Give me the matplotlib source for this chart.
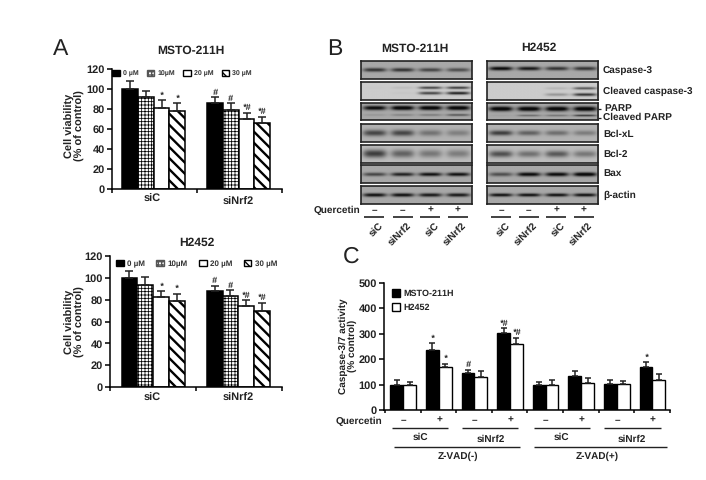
import numpy as np
import matplotlib
matplotlib.use("Agg")
import matplotlib.pyplot as plt
from matplotlib.patches import Patch

plt.rcParams["font.family"] = ["Liberation Sans", "DejaVu Sans"]
plt.rcParams["font.weight"] = "bold"
plt.rcParams["text.hinting"] = "no_hinting"
plt.rcParams["text.hinting_factor"] = 1

W, H = 706, 480
INK = "#222222"

# Panel A
doses = ["0 µM", "10µM", "20 µM", "30 µM"]
groups_a = ["siC", "siNrf2"]
msto_vals = [100, 92.5, 81.5, 78, 86, 79, 70.5, 66]
msto_errs = [8, 6, 7.5, 8, 6, 7, 6, 6.5]
msto_marks = ["", "", "*", "*", "#", "#", "*#", "*#"]
h2452_vals = [100, 93.5, 82.5, 79, 88, 83, 74, 69.5]
h2452_errs = [6, 7, 5.5, 6.5, 4.5, 5.5, 5.5, 7.5]
h2452_marks = ["", "", "*", "*", "#", "#", "*#", "*#"]

# Panel C
casp_msto = [100, 235, 145, 303, 100, 135, 102, 170]
casp_msto_err = [20, 27, 14, 20, 10, 18, 15, 18]
casp_msto_marks = ["", "*", "#", "*#", "", "", "", "*"]
casp_h2452 = [100, 168, 128, 260, 100, 107, 102, 118]
casp_h2452_err = [12, 15, 24, 25, 18, 20, 12, 23]
casp_h2452_marks = ["", "*", "", "*#", "", "", "", ""]
quercetin = ["–", "+", "–", "+", "–", "+", "–", "+"]

# Panel B: band strength per lane, (position in the strip, thickness, strengths)
blot_names = ["Caspase-3", "Cleaved caspase-3", "PARP", "Bcl-xL", "Bcl-2", "Bax", "β-actin"]
blots_msto = [
    [(0.52, 0.10, [0.65, 0.65, 0.55, 0.5])],
    [(0.32, 0.07, [0.02, 0.08, 0.75, 0.8]), (0.62, 0.08, [0.0, 0.03, 0.75, 0.95])],
    [(0.33, 0.12, [0.9, 1.0, 1.0, 1.0]), (0.72, 0.06, [0.1, 0.2, 0.25, 0.45])],
    [(0.5, 0.17, [0.6, 0.6, 0.35, 0.28])],
    [(0.48, 0.22, [0.7, 0.5, 0.38, 0.35])],
    [(0.52, 0.10, [0.55, 0.75, 0.85, 0.85])],
    [(0.5, 0.10, [0.85, 0.85, 0.8, 0.8])],
]
blots_h2452 = [
    [(0.45, 0.10, [0.9, 0.8, 0.65, 0.65])],
    [(0.35, 0.07, [0.0, 0.0, 0.12, 0.65]), (0.7, 0.08, [0.0, 0.0, 0.3, 0.85])],
    [(0.38, 0.13, [1.0, 1.0, 1.0, 1.0]), (0.75, 0.05, [0.05, 0.35, 0.3, 0.65])],
    [(0.5, 0.14, [0.65, 0.45, 0.38, 0.3])],
    [(0.5, 0.18, [0.6, 0.42, 0.55, 0.38])],
    [(0.52, 0.11, [0.5, 0.9, 0.9, 1.0])],
    [(0.5, 0.09, [0.85, 0.85, 0.85, 0.85])],
]
blot_bg = [0.66, 0.80, 0.66, 0.70, 0.74, 0.66, 0.66]
lanes_b = ["siC", "siNrf2", "siC", "siNrf2"]
quercetin_b = ["–", "–", "+", "+"]


def px_axes(fig, left, top, right, bottom):
    return fig.add_axes([left / W, 1 - bottom / H, (right - left) / W, (bottom - top) / H])


def hatch_lw(patch, lw):
    # the hatch width is a global setting, so switch it just for this patch
    orig = patch.draw
    def draw(renderer):
        with plt.rc_context({"hatch.linewidth": lw}):
            orig(renderer)
    patch.draw = draw


def viability_panel(fig, box, ymax, vals, errs, marks, starts, xticks_px, leg_xy, leg_size, leg_gap):
    left, top, right, bottom = box
    ax = px_axes(fig, left, top, right, bottom)
    bw = 15.8
    styles = [dict(color="black", edgecolor="black"),
              dict(color="white", edgecolor="black", hatch="+++++"),
              dict(color="white", edgecolor="black"),
              dict(color="white", edgecolor="black", hatch="\\\\\\")]
    widths = [1.0, 0.55, 1.0, 1.7]
    for i, (v, e, m) in enumerate(zip(vals, errs, marks)):
        x = starts[i // 4] + (i % 4) * bw + bw / 2
        with plt.rc_context({"hatch.linewidth": widths[i % 4]}):
            rect = ax.bar(x, v, width=bw, linewidth=1.1, **styles[i % 4])[0]
        hatch_lw(rect, widths[i % 4])
        ax.errorbar(x, v, yerr=[[0], [e]], color=INK, capsize=2.8, elinewidth=1.1, capthick=1.1)
        if m:
            ax.text(x, v + e + 0.5, m, ha="center", va="bottom", fontsize=6.5, style="italic", color=INK)
    ax.set_xlim(0, right - left)
    ax.set_ylim(0, ymax)
    ax.set_yticks(range(0, ymax + 1, 20))
    ax.set_xticks(xticks_px)
    ax.set_xticklabels([])
    ax.tick_params(axis="y", labelsize=8.2, length=3.5, width=1.1, pad=1.5, labelcolor=INK)
    ax.tick_params(axis="x", length=3, width=1.1)
    for s in ("top", "right"):
        ax.spines[s].set_visible(False)
    for s in ("left", "bottom"):
        ax.spines[s].set_linewidth(1.1)
    handles = [Patch(facecolor="black", edgecolor="black"),
               Patch(facecolor="white", edgecolor="#555555", hatch="+++++"),
               Patch(facecolor="white", edgecolor="black"),
               Patch(facecolor="white", edgecolor="black", hatch="\\\\\\\\")]
    ax.legend(handles, doses, ncol=4, frameon=False, fontsize=leg_size, loc="upper left",
              bbox_to_anchor=leg_xy, borderaxespad=0, borderpad=0, handlelength=1.0,
              handleheight=0.9, handletextpad=0.42, columnspacing=leg_gap, labelcolor="#333333")
    return ax


def draw_blot(fig, left, top, right, bottom, bands, bg, lane_xs):
    ax = px_axes(fig, left, top, right, bottom)
    h, w = 60, 240
    yy = (np.arange(h) + 0.5) / h
    xx = (np.arange(w) + 0.5) / w
    img = np.full((h, w), bg)
    for pos, thick, strengths in bands:
        for lx, s in zip(lane_xs, strengths):
            across = np.exp(-((xx - lx) / 0.105) ** 4)
            down = np.exp(-((yy - pos) / thick) ** 2)
            img -= s * 0.72 * np.outer(down, across)
    ax.imshow(np.clip(img, 0.05, 1), cmap="gray", vmin=0, vmax=1, aspect="auto",
              interpolation="bilinear", extent=(0, 1, 1, 0))
    ax.set_xticks([])
    ax.set_yticks([])
    for s in ax.spines.values():
        s.set_linewidth(1.2)
        s.set_color("#222222")


fig = plt.figure(figsize=(W / 100, H / 100), dpi=100, facecolor="white")

# Panel A bar charts
viability_panel(fig, (112, 69, 282, 189), 120, msto_vals, msto_errs, msto_marks,
                [10, 95], [0, 85, 170], (0.0, 0.99), 5.4, 1.1)
viability_panel(fig, (110, 255.7, 282, 387.3), 120, h2452_vals, h2452_errs, h2452_marks,
                [11.5, 96.7], [0, 86, 172], (0.035, 0.967), 5.6, 1.45)

# Panel B blots
rows = [(61, 79.3), (82, 100), (102.7, 120), (123.7, 141.7), (144.7, 162.7), (165.3, 183.3), (186, 204)]
lane_xs = [0.125, 0.375, 0.625, 0.875]
for (t, b), m, h2, bg in zip(rows, blots_msto, blots_h2452, blot_bg):
    draw_blot(fig, 360.7, t, 471.7, b, m, bg, lane_xs)
    draw_blot(fig, 486.7, t, 597.7, b, h2, bg, lane_xs)

# Panel C bars
ax_c = px_axes(fig, 384, 283, 670, 410)
pair_w = 12.8
xs_c = [12.8 + 35.6 * i for i in range(8)]
for i, x in enumerate(xs_c):
    ax_c.bar(x, casp_msto[i], width=pair_w, color="black", edgecolor="black", linewidth=1.0)
    ax_c.bar(x + pair_w, casp_h2452[i], width=pair_w, color="white", edgecolor="black", linewidth=1.0)
    ax_c.errorbar(x, casp_msto[i], yerr=[[0], [casp_msto_err[i]]], color=INK,
                  capsize=2.5, elinewidth=1.1, capthick=1.1)
    ax_c.errorbar(x + pair_w, casp_h2452[i], yerr=[[0], [casp_h2452_err[i]]], color=INK,
                  capsize=2.5, elinewidth=1.1, capthick=1.1)
    if casp_msto_marks[i]:
        ax_c.text(x, casp_msto[i] + casp_msto_err[i] + 2, casp_msto_marks[i], ha="center",
                  va="bottom", fontsize=6.5, style="italic", color=INK)
    if casp_h2452_marks[i]:
        ax_c.text(x + pair_w, casp_h2452[i] + casp_h2452_err[i] + 2, casp_h2452_marks[i], ha="center",
                  va="bottom", fontsize=6.5, style="italic", color=INK)
ax_c.set_xlim(0, 286)
ax_c.set_ylim(0, 500)
ax_c.set_yticks(range(0, 501, 100))
ax_c.set_xticks([35.6 * i + 1 for i in range(9)])
ax_c.set_xticklabels([])
ax_c.tick_params(axis="y", labelsize=8.2, length=3.5, width=1.1, pad=1.5, labelcolor=INK)
ax_c.tick_params(axis="x", length=2.5, width=1.1)
for s in ("top", "right"):
    ax_c.spines[s].set_visible(False)
for s in ("left", "bottom"):
    ax_c.spines[s].set_linewidth(1.1)
ax_c.legend([Patch(facecolor="black", edgecolor="black"), Patch(facecolor="white", edgecolor="black")],
            ["MSTO-211H", "H2452"], frameon=False, fontsize=6.5, loc="upper left",
            bbox_to_anchor=(0.027, 0.953), borderaxespad=0, borderpad=0, handlelength=0.95,
            handleheight=1.0, handletextpad=0.3, labelspacing=0.55, labelcolor=INK)

# Overlay in pixel coordinates for labels and brackets
ov = fig.add_axes([0, 0, 1, 1])
ov.set_xlim(0, W)
ov.set_ylim(H, 0)
ov.axis("off")
ov.patch.set_alpha(0)


def label(x, y, s, size=7, ha="center", **kw):
    ov.text(x, y, s, fontsize=size, ha=ha, va="center", color=INK, **kw)


def rule(x0, x1, y, lw=1.0):
    ov.plot([x0, x1], [y, y], color=INK, linewidth=lw, solid_capstyle="butt")


for s, x, y in [("A", 61, 49.5), ("B", 334.5, 49.5), ("C", 351, 256.5)]:
    label(x, y, s, size=16.5, fontweight="normal")

# Panel A labels
label(191, 51, "MSTO-211H", size=8.5)
label(197, 243, "H2452", size=8.5)
label(75, 126, "Cell viability\n(% of control)", size=7.6, rotation=90, linespacing=1.05)
label(75, 322, "Cell viability\n(% of control)", size=7.6, rotation=90, linespacing=1.05)
label(152, 199, groups_a[0], size=8)
label(238, 202, groups_a[1], size=8)
label(152, 398, groups_a[0], size=8)
label(238, 398, groups_a[1], size=8)

# Panel B labels
label(415, 49, "MSTO-211H", size=8.5)
label(539, 48, "H2452", size=8.5)
label_ys = [71, 91, 108, 134, 154, 173, 195]
for name, y in zip(blot_names, label_ys):
    label(603 if name != "PARP" else 604, y, name, size=7.2, ha="left")
label(603, 117.5, "Cleaved PARP", size=7.2, ha="left")
rule(597.5, 601, 108.5, 0.9)
rule(597.5, 601, 117.5, 0.9)
label(360, 210, "Quercetin", size=7.4, ha="right")
lanes_left = [374, 402.5, 430, 457.5]
lanes_right = [501, 528.5, 556, 583.5]
for lanes in (lanes_left, lanes_right):
    for x, name, q in zip(lanes, lanes_b, quercetin_b):
        label(x, 210, q, size=7.5)
        rule(x - 10, x + 10, 216.5, 1.2)
        ov.text(x + 4, 221, name, fontsize=7.5, rotation=45, rotation_mode="anchor",
                ha="right", va="top", color=INK)

# Panel C labels
label(348, 346, "Caspase-3/7 activity\n(% control)", size=7.2, rotation=90, linespacing=0.95)
label(382, 421, "Quercetin", size=7.4, ha="right")
for i, q in enumerate(quercetin):
    label(403.5 + 35.6 * i, 420, q, size=7.5)
for x0, x1, name, cx, y in [(392, 448, "siC", 420, 437), (462, 518, "siNrf2", 491, 439),
                            (534, 590, "siC", 561, 437.5), (604, 661, "siNrf2", 632, 439.5)]:
    rule(x0, x1, 427.5)
    label(cx, y, name, size=7.3)
rule(394, 520, 446.5)
rule(534, 667, 446.5)
label(458, 456.5, "Z-VAD(-)", size=7.2)
label(597, 456.5, "Z-VAD(+)", size=7.2)

fig.savefig("out.png", dpi=100, facecolor="white")
